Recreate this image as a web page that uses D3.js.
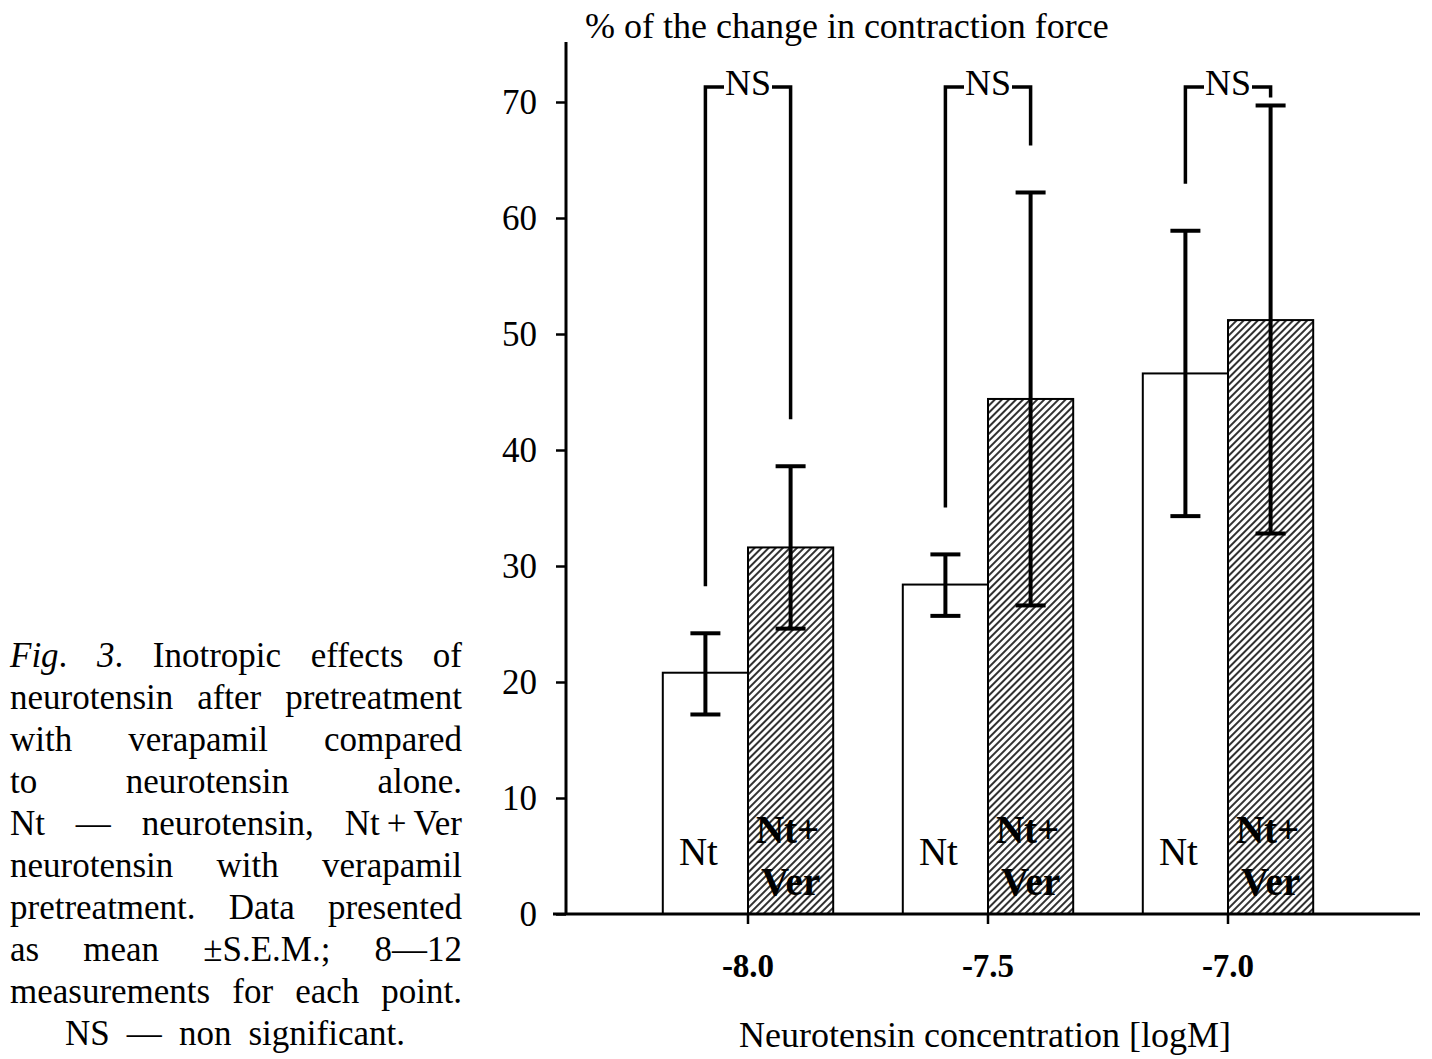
<!DOCTYPE html>
<html>
<head>
<meta charset="utf-8">
<script src="https://cdn.jsdelivr.net/npm/d3@7"></script>
<style>
    body { margin: 0; background: #fff; }
    svg text { font-family: "Liberation Serif", "Times New Roman", serif; fill: #000; }
</style>
</head>
<body>
<div id="chart"></div>
<script>
// data
var concentrations = ["-8.0", "-7.5", "-7.0"];
var groups = ["Nt", "NtVer"];
var ntMean = [20.8, 28.4, 46.6];
var ntLow = [17.2, 25.7, 34.3];
var ntHigh = [24.2, 31.0, 58.9];
var verMean = [31.6, 44.4, 51.2];
var verLow = [24.6, 26.6, 32.8];
var verHigh = [38.6, 62.2, 69.7];
var yTicks = [0, 10, 20, 30, 40, 50, 60, 70];
var nsTopValue = 71.3;

var captionLines = [
    ["Fig.", "3.", "Inotropic", "effects", "of"],
    ["neurotensin", "after", "pretreatment"],
    ["with", "verapamil", "compared"],
    ["to", "neurotensin", "alone."],
    ["Nt", "\u2014", "neurotensin,", "Nt\u2009+\u2009Ver"],
    ["neurotensin", "with", "verapamil"],
    ["pretreatment.", "Data", "presented"],
    ["as", "mean", "\u00b1S.E.M.;", "8\u201412"],
    ["measurements", "for", "each", "point."]
];
var captionLast = ["NS", "\u2014", "non", "significant."];

function init() {
    var w = 1432;
    var h = 1059;

    var svg = d3.select("#chart")
        .append("svg")
        .attr("width", w)
        .attr("height", h);

    // hatch pattern for the verapamil bars
    var defs = svg.append("defs");
    var pat = defs.append("pattern")
        .attr("id", "hatch")
        .attr("patternUnits", "userSpaceOnUse")
        .attr("width", 5)
        .attr("height", 5)
        .attr("patternTransform", "rotate(45)");
    pat.append("rect").attr("width", 5).attr("height", 5).attr("fill", "#fff");
    pat.append("line")
        .attr("x1", 1).attr("y1", 0).attr("x2", 1).attr("y2", 5)
        .attr("stroke", "#1a1a1a").attr("stroke-width", 1.8);

    // scales
    var yScale = d3.scaleLinear().domain([0, 75]).range([914, 44]);
    var xScale = d3.scaleBand()
        .domain(concentrations)
        .range([628, 1348])
        .paddingInner(0.29)
        .paddingOuter(0.145);
    var xSub = d3.scaleBand().domain(groups).range([0, xScale.bandwidth()]);

    var bars = concentrations.map(function (c, i) {
        return [
            { conc: c, key: "Nt", mean: ntMean[i], low: ntLow[i], high: ntHigh[i] },
            { conc: c, key: "NtVer", mean: verMean[i], low: verLow[i], high: verHigh[i] }
        ];
    });
    var flat = [].concat.apply([], bars);

    function cx(d) { return xScale(d.conc) + xSub(d.key) + xSub.bandwidth() / 2; }

    // bars
    svg.selectAll(".bar")
        .data(flat)
        .enter()
        .append("rect")
        .attr("class", "bar")
        .attr("x", function (d) { return xScale(d.conc) + xSub(d.key); })
        .attr("y", function (d) { return yScale(d.mean); })
        .attr("width", xSub.bandwidth())
        .attr("height", function (d) { return yScale(0) - yScale(d.mean); })
        .attr("fill", function (d) { return d.key === "Nt" ? "#fff" : "url(#hatch)"; })
        .attr("stroke", "#000")
        .attr("stroke-width", 2);

    // error bars
    var capW = 30;
    var err = svg.selectAll(".err").data(flat).enter().append("g").attr("class", "err");
    err.append("line")
        .attr("x1", cx).attr("x2", cx)
        .attr("y1", function (d) { return yScale(d.low); })
        .attr("y2", function (d) { return yScale(d.high); })
        .attr("stroke", "#000").attr("stroke-width", 4);
    err.append("line")
        .attr("x1", function (d) { return cx(d) - capW / 2; })
        .attr("x2", function (d) { return cx(d) + capW / 2; })
        .attr("y1", function (d) { return yScale(d.low); })
        .attr("y2", function (d) { return yScale(d.low); })
        .attr("stroke", "#000").attr("stroke-width", 4);
    err.append("line")
        .attr("x1", function (d) { return cx(d) - capW / 2; })
        .attr("x2", function (d) { return cx(d) + capW / 2; })
        .attr("y1", function (d) { return yScale(d.high); })
        .attr("y2", function (d) { return yScale(d.high); })
        .attr("stroke", "#000").attr("stroke-width", 4);

    // bar labels
    svg.selectAll(".ntLabel")
        .data(flat.filter(function (d) { return d.key === "Nt"; }))
        .enter()
        .append("text")
        .attr("x", function (d) { return cx(d) - 7; })
        .attr("y", 865)
        .attr("text-anchor", "middle")
        .style("font-size", "39px")
        .text("Nt");

    var verLabels = svg.selectAll(".verLabel")
        .data(flat.filter(function (d) { return d.key === "NtVer"; }))
        .enter()
        .append("text")
        .attr("text-anchor", "middle")
        .style("font-size", "39px")
        .style("font-weight", "bold");
    verLabels.append("tspan")
        .attr("x", function (d) { return cx(d) - 3; })
        .attr("y", 843)
        .text("Nt+");
    verLabels.append("tspan")
        .attr("x", function (d) { return cx(d); })
        .attr("y", 895)
        .text("Ver");

    // NS brackets
    var gap = 47;
    bars.forEach(function (pair) {
        var x1 = cx(pair[0]);
        var x2 = cx(pair[1]);
        var yTop = yScale(nsTopValue);
        var yL = yScale(pair[0].high) - gap;
        var yR = yScale(pair[1].high) - gap;
        if (yR < yTop + 10) yR = yScale(pair[1].high) - 8;
        var mid = (x1 + x2) / 2;
        var half = 24;
        svg.append("path")
            .attr("d", "M" + x1 + "," + yL + "V" + yTop + "H" + (mid - half))
            .attr("fill", "none").attr("stroke", "#000").attr("stroke-width", 3.5);
        svg.append("path")
            .attr("d", "M" + (mid + half) + "," + yTop + "H" + x2 + "V" + yR)
            .attr("fill", "none").attr("stroke", "#000").attr("stroke-width", 3.5);
        svg.append("text")
            .attr("x", mid)
            .attr("y", yTop + 8)
            .attr("text-anchor", "middle")
            .style("font-size", "36px")
            .text("NS");
    });

    // axes
    var yAxis = d3.axisLeft(yScale).tickValues(yTicks).tickSize(10).tickSizeOuter(0).tickPadding(19);
    var gy = svg.append("g").attr("transform", "translate(566,0)").call(yAxis);
    gy.select(".domain").attr("stroke-width", 3).attr("d", "M0," + yScale(0) + "V42");
    gy.selectAll(".tick line").attr("stroke-width", 2.5);
    gy.selectAll(".tick text").style("font-size", "35px").style("font-family", "Liberation Serif, serif");

    var xAxis = d3.axisBottom(xScale).tickSize(10).tickSizeOuter(0).tickPadding(30);
    var gx = svg.append("g").attr("transform", "translate(0," + yScale(0) + ")").call(xAxis);
    gx.select(".domain").attr("stroke-width", 3).attr("d", "M553,0H1420");
    gx.selectAll(".tick line").attr("stroke-width", 2.5);
    gx.selectAll(".tick text")
        .style("font-size", "33px")
        .style("font-weight", "bold")
        .style("font-family", "Liberation Serif, serif");

    // axis titles
    svg.append("text")
        .attr("x", 585)
        .attr("y", 38)
        .style("font-size", "36px")
        .text("% of the change in contraction force");
    svg.append("text")
        .attr("x", 985)
        .attr("y", 1047)
        .attr("text-anchor", "middle")
        .style("font-size", "36px")
        .text("Neurotensin concentration [logM]");

    // justified caption
    var lineH = 42, y0 = 667;
    function justify(words, y, left, right) {
        var nodes = words.map(function (wd) {
            var t = svg.append("text").attr("y", y).style("font-size", "35px");
            if (wd === "Fig." || wd === "3.") {
                t.append("tspan").style("font-style", "italic").text(wd.slice(0, -1));
                t.append("tspan").text(".");
            } else {
                t.text(wd);
            }
            return t;
        });
        var widths = nodes.map(function (t) { return t.node().getComputedTextLength(); });
        var space = (right - left - d3.sum(widths)) / (words.length - 1);
        var x = left;
        nodes.forEach(function (t, i) {
            t.attr("x", x);
            x += widths[i] + space;
        });
    }
    captionLines.forEach(function (words, li) {
        justify(words, y0 + li * lineH, 10, 462);
    });
    justify(captionLast, y0 + captionLines.length * lineH, 65, 405);
}

window.onload = init;
</script>
</body>
</html>
